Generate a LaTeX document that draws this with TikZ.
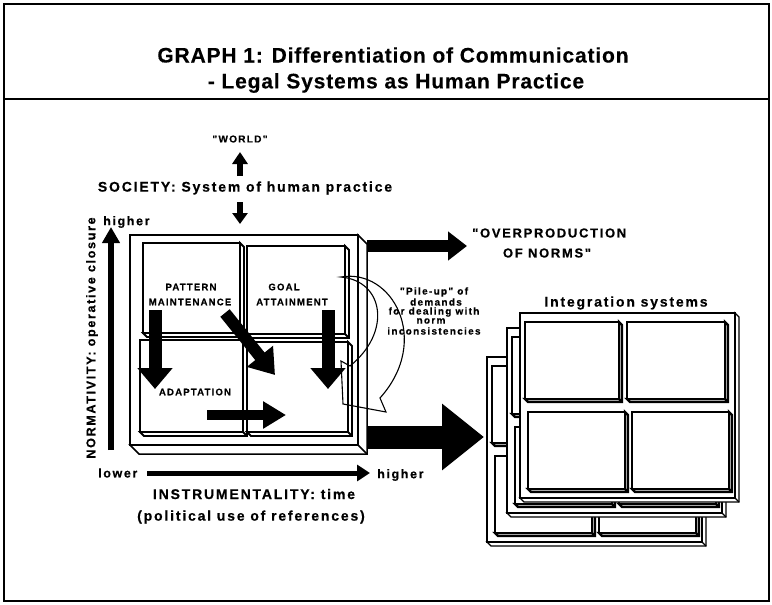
\documentclass[tikz,border=0pt]{standalone}
\usepackage{fontspec}
\setmainfont{Liberation Sans}
\newfontfamily\lblfont[LetterSpace=13,FakeBold=0.5]{Liberation Sans Bold}
\newfontfamily\ttlfont[LetterSpace=4,FakeBold=0.3]{Liberation Sans Bold}
\usetikzlibrary{arrows.meta}
\newcommand\setfs[1]{\fontsize{#1}{#1}\selectfont}
% a slab: rectangle x1 y1 x2 y2 with an oblique extrusion of depth d
\newcommand\slab[5]{%
  \filldraw[fill=white] (#1,#4) -- ++(#5,#5) -- (#3+#5,#4+#5) -- (#3+#5,#2+#5) -- (#3,#2) -- (#3,#4) -- cycle;
  \draw (#3,#4) -- ++(#5,#5);
  \filldraw[fill=white] (#1,#2) rectangle (#3,#4);
}
% one frame of the integration systems stack, drawn in local coordinates
\newcommand\intframe{%
  \begin{scope}[line width=1.3pt]\slab{0}{0}{215}{185}{4}\end{scope}
  \begin{scope}[line width=2.4pt]
    \slab{5}{9}{99}{86}{3}
    \slab{107}{9}{205}{86}{3}
    \slab{8}{99}{105}{176}{3}
    \slab{112}{99}{209}{176}{3}
  \end{scope}
}
\tikzset{
  lbl/.style={inner sep=0pt, font=\lblfont},
  ttl/.style={inner sep=0pt, font=\ttlfont},
  blk/.style args={#1/#2/#3}{line width=#1, -{Triangle[length=#2,width=#3]}},
}
\begin{document}
\begin{tikzpicture}[x=1pt,y=-1pt,line join=miter]
\useasboundingbox (0,0) rectangle (772,605);
% page frame and title rule
\draw[line width=1.5pt] (4,4) rectangle (769,601);
\draw[line width=1.5pt] (4,99) -- (769,99);
\node[ttl] (title1) at (393,55) {\setfs{21}GRAPH 1: Differentiation of Communication};
\node[ttl] (title2) at (396,83) {\setfs{21}- Legal Systems as Human Practice};

% world / society
\node[lbl] (world) at (240,139) {\setfs{10}"WORLD"};
\node[lbl] (society) at (245,188) {\setfs{14}SOCIETY: System of human practice};
\coordinate (upA) at (240,176); \coordinate (upB) at (240,152);
\draw[blk={6pt/12pt/15pt}] (upA) -- (upB);
\coordinate (dnA) at (240,202); \coordinate (dnB) at (240,224);
\draw[blk={6pt/11pt/15pt}] (dnA) -- (dnB);

% the four-cell box of human practice
\begin{scope}[line width=1.5pt]\slab{130}{235}{358}{445}{9}\end{scope}
\begin{scope}[line width=1.8pt]
  \slab{143}{243}{240}{333}{4}
  \slab{247}{246}{345}{334}{4}
  \slab{140}{340}{243}{432}{4}
  \slab{247}{342}{348}{432}{4}
\end{scope}

% integration systems stack, back to front
\begin{scope}[shift={(487,357)}]\intframe\end{scope}
\begin{scope}[shift={(507,328)}]\intframe\end{scope}
\begin{scope}[shift={(520,313)}]\intframe\end{scope}
\node[lbl] (integ) at (626,303) {\setfs{14}Integration systems};

% cell labels
\node[lbl] (pat1) at (191,287) {\setfs{9.5}PATTERN};
\node[lbl] (pat2) at (190,302) {\setfs{9.5}MAINTENANCE};
\node[lbl] (goal1) at (284,287) {\setfs{9.5}GOAL};
\node[lbl] (goal2) at (292,302) {\setfs{9.5}ATTAINMENT};
\node[lbl] (adapt) at (195,392) {\setfs{9.5}ADAPTATION};

% flows inside the box
\coordinate (f1a) at (155,310); \coordinate (f1b) at (155,389);
\draw[blk={13pt/21pt/34pt}] (f1a) -- (f1b);
\coordinate (f2a) at (225,313); \coordinate (f2b) at (275,375);
\draw[blk={12pt/24pt/32pt}] (f2a) -- (f2b);
\coordinate (f3a) at (328,310); \coordinate (f3b) at (328,389);
\draw[blk={13pt/21pt/34pt}] (f3a) -- (f3b);
\coordinate (f4a) at (207,415); \coordinate (f4b) at (286,415);
\draw[blk={10pt/23pt/26pt}] (f4a) -- (f4b);

% outputs of the box
\coordinate (ovA) at (367,246); \coordinate (ovB) at (467,246);
\draw[blk={12pt/19pt/28pt}] (ovA) -- (ovB);
\node[lbl,anchor=west] (over1) at (472,233) {\setfs{13}"OVERPRODUCTION};
\node[lbl] (over2) at (547,253) {\setfs{13}OF NORMS"};
\coordinate (bgA) at (367,437); \coordinate (bgB) at (484,437);
\draw[blk={23pt/42pt/64pt}] (bgA) -- (bgB);

% feedback loop of demands
\draw[line width=1.1pt]
  (341,277) .. controls (392,268) and (432,340) .. (380,398)
  -- (386,412) -- (343,404) -- (341,361) -- (350,366)
  .. controls (392,332) and (384,281) .. (341,277) -- cycle;
\node[lbl] (pile1) at (434,292) {\setfs{10}"Pile-up" of};
\node[lbl] (pile2) at (436,302) {\setfs{10}demands};
\node[lbl] (pile3) at (434,312) {\setfs{10}for dealing with};
\node[lbl] (pile4) at (431,321) {\setfs{10}norm};
\node[lbl] (pile5) at (434,331) {\setfs{10}inconsistencies};

% axes
\node[lbl,anchor=west] (hiN) at (103,222) {\setfs{12.5}higher};
\coordinate (axVa) at (111,450); \coordinate (axVb) at (111,227);
\draw[blk={6pt/16pt/17pt}] (axVa) -- (axVb);
\node[lbl,rotate=90] (norm) at (92,338) {\setfs{12.6}NORMATIVITY: operative closure};
\node[lbl,anchor=west] (low) at (98,473) {\setfs{12.5}lower};
\coordinate (axHa) at (147,473); \coordinate (axHb) at (370,473);
\draw[blk={5pt/13pt/16pt}] (axHa) -- (axHb);
\node[lbl,anchor=west] (hiI) at (377,475) {\setfs{12.5}higher};
\node[lbl] (instr) at (254,494) {\setfs{14}INSTRUMENTALITY: time};
\node[lbl] (polit) at (251,517) {\setfs{14}(political use of references)};
\end{tikzpicture}
\end{document}
